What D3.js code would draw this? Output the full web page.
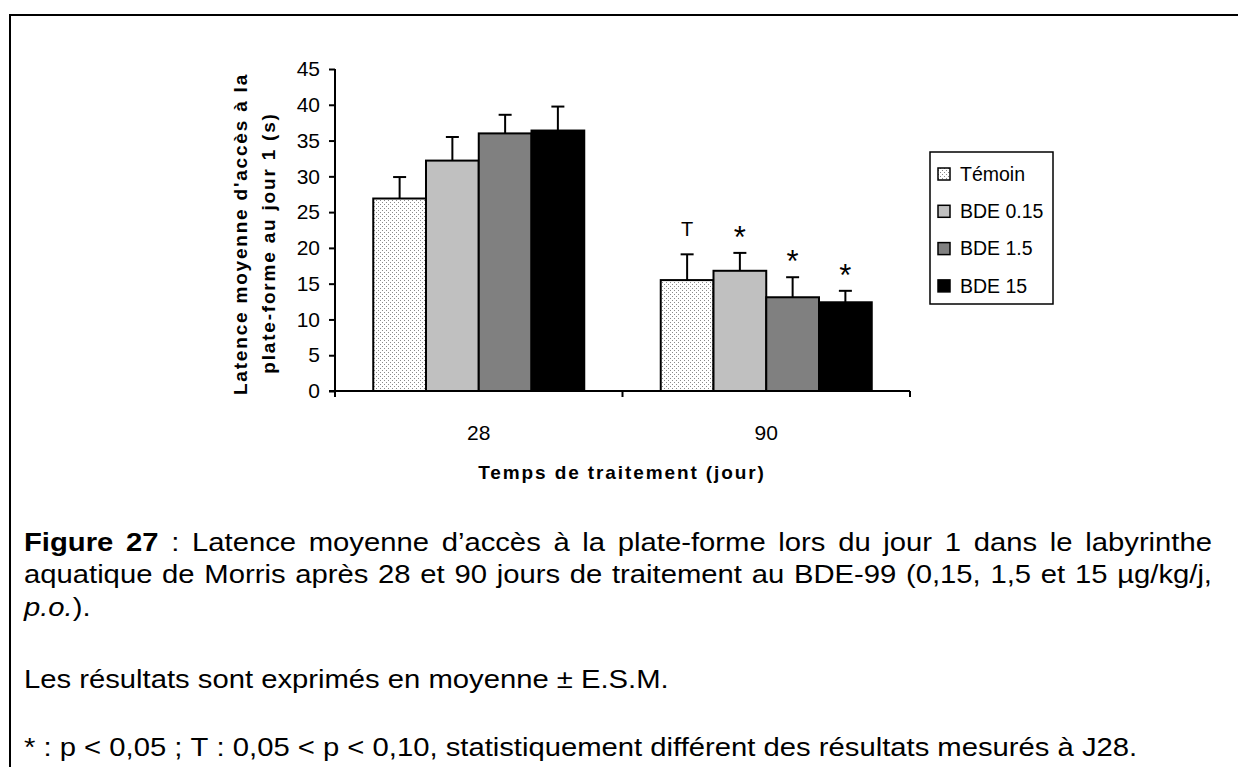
<!DOCTYPE html>
<html>
<head>
<meta charset="utf-8">
<script src="https://cdn.jsdelivr.net/npm/d3@7"></script>
<style>
  body { margin: 0; background: #fff; }
  svg { display: block; font-family: "Liberation Sans", Arial, sans-serif; }
</style>
</head>
<body>
<svg id="chart"></svg>
<script>
var width = 1238;
var height = 767;

// data
var categories = ["28", "90"];
var series = ["Témoin", "BDE 0.15", "BDE 1.5", "BDE 15"];
var means28 = [26.9, 32.2, 36.0, 36.4];
var sem28 = [3.0, 3.3, 2.6, 3.35];
var means90 = [15.5, 16.8, 13.1, 12.4];
var sem90 = [3.6, 2.5, 2.8, 1.6];
var marks28 = ["", "", "", ""];
var marks90 = ["T", "*", "*", "*"];
var yTicks = [0, 5, 10, 15, 20, 25, 30, 35, 40, 45];

var fills = ["url(#dots)", "#c0c0c0", "#808080", "#000000"];

var rows = [];
categories.forEach(function(c, ci) {
  var m = ci == 0 ? means28 : means90;
  var s = ci == 0 ? sem28 : sem90;
  var k = ci == 0 ? marks28 : marks90;
  series.forEach(function(name, i) {
    rows.push({cat: c, name: name, i: i, mean: m[i], sem: s[i], mark: k[i]});
  });
});

var svg = d3.select("#chart")
  .attr("width", width)
  .attr("height", height);

svg.append("rect").attr("width", width).attr("height", height).style("fill", "#fff");

// dotted fill for the control bars
var pat = svg.append("defs").append("pattern")
  .attr("id", "dots")
  .attr("patternUnits", "userSpaceOnUse")
  .attr("width", 4).attr("height", 4);
pat.append("rect").attr("width", 4).attr("height", 4).style("fill", "#fff");
pat.append("rect").attr("x", 0).attr("y", 0).attr("width", 1).attr("height", 1).style("fill", "#8a8a8a");
pat.append("rect").attr("x", 2).attr("y", 2).attr("width", 1).attr("height", 1).style("fill", "#8a8a8a");

// page frame
svg.append("rect")
  .attr("x", 10).attr("y", 15)
  .attr("width", 1400).attr("height", 900)
  .style("fill", "none").style("stroke", "#000").style("stroke-width", 2);

var x = d3.scaleBand().domain(categories).range([335, 910]);
var xs = d3.scaleBand().domain(series).range([0, x.bandwidth()]).paddingOuter(0.725);
var y = d3.scaleLinear().domain([0, 45]).range([391, 69]);

// bars
svg.selectAll(".bar")
  .data(rows)
  .enter()
  .append("rect")
  .attr("class", "bar")
  .attr("x", function(d) { return x(d.cat) + xs(d.name); })
  .attr("y", function(d) { return y(d.mean); })
  .attr("width", xs.bandwidth())
  .attr("height", function(d) { return y(0) - y(d.mean); })
  .style("fill", function(d) { return fills[d.i]; })
  .style("stroke", "#000")
  .style("stroke-width", 2);

// error bars (upper half only)
var eb = svg.selectAll(".err").data(rows).enter().append("g").attr("class", "err");
eb.append("line")
  .attr("x1", function(d) { return x(d.cat) + xs(d.name) + xs.bandwidth() / 2; })
  .attr("x2", function(d) { return x(d.cat) + xs(d.name) + xs.bandwidth() / 2; })
  .attr("y1", function(d) { return y(d.mean); })
  .attr("y2", function(d) { return y(d.mean + d.sem); })
  .style("stroke", "#000").style("stroke-width", 2);
eb.append("line")
  .attr("x1", function(d) { return x(d.cat) + xs(d.name) + xs.bandwidth() / 2 - 6.5; })
  .attr("x2", function(d) { return x(d.cat) + xs(d.name) + xs.bandwidth() / 2 + 6.5; })
  .attr("y1", function(d) { return y(d.mean + d.sem); })
  .attr("y2", function(d) { return y(d.mean + d.sem); })
  .style("stroke", "#000").style("stroke-width", 2);

// significance marks
svg.selectAll(".mark")
  .data(rows.filter(function(d) { return d.mark != ""; }))
  .enter()
  .append("text")
  .attr("class", "mark")
  .attr("x", function(d) { return x(d.cat) + xs(d.name) + xs.bandwidth() / 2; })
  .attr("y", function(d) { return y(d.mean + d.sem) - (d.mark == "T" ? 18 : 5); })
  .attr("text-anchor", "middle")
  .style("font-size", function(d) { return d.mark == "T" ? "20px" : "31px"; })
  .text(function(d) { return d.mark; });

// y axis
var yAxis = svg.append("g")
  .attr("transform", "translate(335,0)")
  .call(d3.axisLeft(y).tickValues(yTicks).tickSize(6).tickPadding(9));
yAxis.select(".domain").attr("d", "M0," + y(45) + "V" + y(0)).style("stroke-width", 2);
yAxis.selectAll(".tick line").style("stroke-width", 2);
yAxis.selectAll("text")
  .style("font-family", "Liberation Sans, Arial, sans-serif")
  .style("font-size", "21px").style("fill", "#000");

// x axis with ticks between groups
var xAxis = svg.append("g").attr("transform", "translate(0," + y(0) + ")");
xAxis.append("line")
  .attr("x1", 329).attr("x2", 910)
  .style("stroke", "#000").style("stroke-width", 2);
xAxis.selectAll(".xt")
  .data([335, x("90"), 910])
  .enter()
  .append("line")
  .attr("x1", function(d) { return d; }).attr("x2", function(d) { return d; })
  .attr("y1", 0).attr("y2", 6)
  .style("stroke", "#000").style("stroke-width", 2);
xAxis.selectAll(".xl")
  .data(categories)
  .enter()
  .append("text")
  .attr("x", function(d) { return x(d) + x.bandwidth() / 2; })
  .attr("y", 49)
  .attr("text-anchor", "middle")
  .style("font-size", "21px")
  .text(function(d) { return d; });

// axis titles
svg.append("text")
  .attr("x", 622).attr("y", 479)
  .attr("text-anchor", "middle")
  .style("font-size", "19px").style("font-weight", "bold").style("letter-spacing", "1.9px")
  .text("Temps de traitement (jour)");

var yTitle = ["Latence moyenne d'accès à la", "plate-forme au jour 1 (s)"];
svg.selectAll(".ytitle")
  .data(yTitle)
  .enter()
  .append("text")
  .attr("transform", function(d, i) { return i == 0 ? "translate(247,234) rotate(-90)" : "translate(275,243) rotate(-90)"; })
  .attr("text-anchor", "middle")
  .style("font-size", "19px").style("font-weight", "bold").style("letter-spacing", "1.8px")
  .text(function(d) { return d; });

// legend
var legend = svg.append("g");
legend.append("rect")
  .attr("x", 930).attr("y", 152).attr("width", 123).attr("height", 152)
  .style("fill", "#fff").style("stroke", "#000").style("stroke-width", 1.5);
var li = legend.selectAll(".li")
  .data(series)
  .enter()
  .append("g")
  .attr("transform", function(d, i) { return "translate(938," + (174 + i * 37.3) + ")"; });
li.append("rect")
  .attr("x", 0).attr("y", -6).attr("width", 12).attr("height", 12)
  .style("fill", function(d, i) { return fills[i]; })
  .style("stroke", "#000").style("stroke-width", 1.5);
li.append("text")
  .attr("x", 22).attr("dy", "0.35em")
  .style("font-size", "19.5px")
  .text(function(d) { return d; });

// caption: the scanned text is a little stretched sideways, so the group is scaled in x
var sx = 1.17;
var captionLines = [
  {y: 551, justify: true, words: [
    {t: "Figure", b: true}, {t: "27", b: true}, {t: ":"}, {t: "Latence"}, {t: "moyenne"}, {t: "d\u2019accès"},
    {t: "à"}, {t: "la"}, {t: "plate-forme"}, {t: "lors"}, {t: "du"}, {t: "jour"}, {t: "1"}, {t: "dans"},
    {t: "le"}, {t: "labyrinthe"}]},
  {y: 583.5, justify: true, words: "aquatique de Morris après 28 et 90 jours de traitement au BDE-99 (0,15, 1,5 et 15 µg/kg/j,"
    .split(" ").map(function(w) { return {t: w}; })},
  {y: 616, justify: false, words: [{t: "p.o.", i: true, join: true}, {t: ")."}]},
  {y: 688, justify: false, words: "Les résultats sont exprimés en moyenne ± E.S.M."
    .split(" ").map(function(w) { return {t: w}; })},
  {y: 756, justify: false, words: "* : p < 0,05 ; T : 0,05 < p < 0,10, statistiquement différent des résultats mesurés à J28."
    .split(" ").map(function(w) { return {t: w}; })}
];

var cap = svg.append("g")
  .attr("transform", "scale(" + sx + ",1)")
  .style("font-size", "25px");
var spaceW = (function() {
  var t = cap.append("text").text("a a");
  var t2 = cap.append("text").text("aa");
  var w = t.node().getComputedTextLength() - t2.node().getComputedTextLength();
  t.remove(); t2.remove();
  return w;
})();

var left = 24 / sx, right = 1212 / sx;
captionLines.forEach(function(line) {
  var items = line.words.map(function(w) {
    return cap.append("text")
      .attr("y", line.y)
      .style("font-weight", w.b ? "bold" : "normal")
      .style("font-style", w.i ? "italic" : "normal")
      .text(w.t);
  });
  var widths = items.map(function(t) { return t.node().getComputedTextLength(); });
  var gaps = line.words.filter(function(w, i) { return !w.join && i < line.words.length - 1; }).length;
  var gap = line.justify ? (right - left - d3.sum(widths)) / gaps : spaceW;
  var cx = left;
  items.forEach(function(t, i) {
    t.attr("x", cx);
    cx += widths[i] + (line.words[i].join ? 0 : gap);
  });
});
</script>
</body>
</html>
